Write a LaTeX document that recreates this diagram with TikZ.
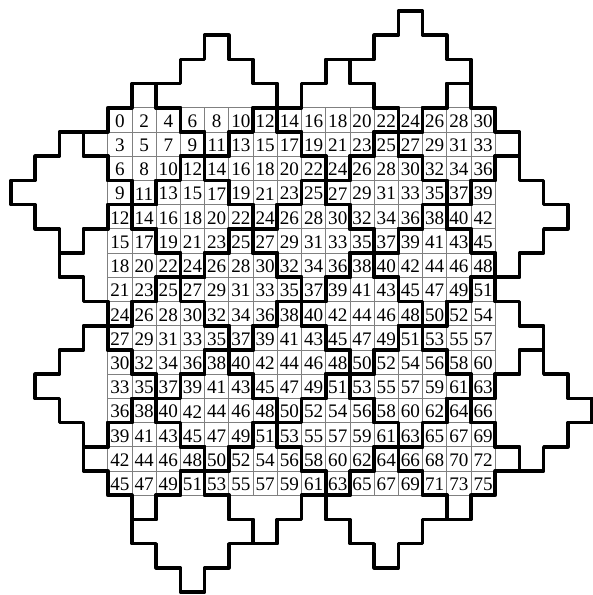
\documentclass[tikz,border=0pt]{standalone}
\usepackage{fontspec}
\setmainfont{Liberation Serif}
\begin{document}
\begin{tikzpicture}[x=1cm,y=1cm,
  thickline/.style={line width=4.2pt, line join=round, line cap=round},
  gridline/.style={line width=0.9pt, draw=black!50},
  num/.style={font=\fontsize{22.5}{22.5}\selectfont, inner sep=0pt}]
\useasboundingbox (-4.45,-20.12) rectangle (20.0,4.45);
% thin grid
\draw[gridline] (0,0) grid (16,-16);
% numbers: value 3r+2c
\foreach \r in {0,...,15}{
  \foreach \c in {0,...,15}{
    \pgfmathtruncatemacro{\v}{3*\r+2*\c}
    \node[num] (n\r-\c) at (\c+0.5,-\r-0.55) {\v};
  }
}
% diamond tiles (radius 2) meeting the grid
\foreach \cx/\cy in {12.5/1.5, 4.5/0.5, 9.5/-0.5, 1.5/-1.5, 14.5/-1.5,
  6.5/-2.5, 11.5/-3.5, -1.5/-3.5, 3.5/-4.5, 16.5/-4.5, 8.5/-5.5,
  0.5/-6.5, 13.5/-6.5, 5.5/-7.5, 10.5/-8.5, 2.5/-9.5, 15.5/-9.5,
  7.5/-10.5, 12.5/-11.5, -0.5/-11.5, 4.5/-12.5, 17.5/-12.5,
  9.5/-13.5, 1.5/-14.5, 14.5/-14.5, 6.5/-15.5, 11.5/-16.5, 3.5/-17.5}{
  \draw[thickline, shift={(\cx,\cy)}]
    (-0.5,2.5) -- (0.5,2.5) -- (0.5,1.5) -- (1.5,1.5) -- (1.5,0.5)
    -- (2.5,0.5) -- (2.5,-0.5) -- (1.5,-0.5) -- (1.5,-1.5) -- (0.5,-1.5)
    -- (0.5,-2.5) -- (-0.5,-2.5) -- (-0.5,-1.5) -- (-1.5,-1.5) -- (-1.5,-0.5)
    -- (-2.5,-0.5) -- (-2.5,0.5) -- (-1.5,0.5) -- (-1.5,1.5) -- (-0.5,1.5) -- cycle;
}
\end{tikzpicture}
\end{document}
